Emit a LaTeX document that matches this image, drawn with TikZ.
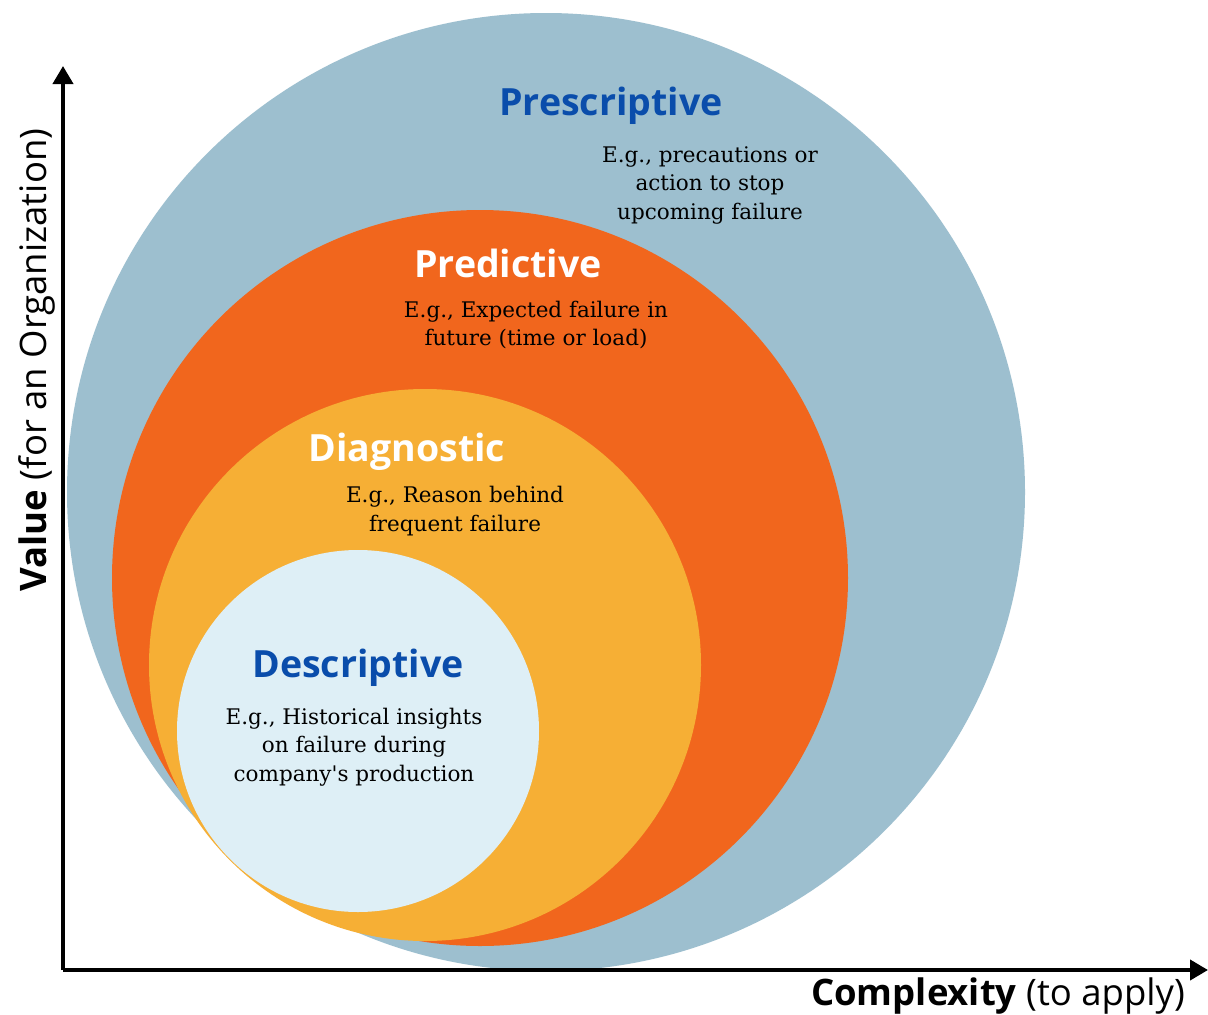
\documentclass[tikz,border=0pt]{standalone}
\usepackage{fontspec}
\setmainfont{DejaVu Serif}
\newfontfamily\osans{Open Sans}
\usetikzlibrary{arrows.meta}
\definecolor{cBlue}{HTML}{9DBFCF}
\definecolor{cOrange}{HTML}{F1661D}
\definecolor{cYellow}{HTML}{F6AF35}
\definecolor{cLight}{HTML}{DEEFF6}
\definecolor{cHead}{HTML}{0A4DAB}
\tikzset{
  head/.style={font=\osans\bfseries\fontsize{37.5}{40}\selectfont, inner sep=0pt, anchor=base},
  desc/.style={font=\fontsize{21.5}{28.5}\selectfont, align=center, inner sep=0pt, text=black},
  axis/.style={line width=4pt, -{Triangle[length=18pt,width=20pt]}},
  axlabel/.style={font=\osans\fontsize{36.5}{40}\selectfont, inner sep=0pt, anchor=base}
}
\begin{document}
\begin{tikzpicture}[x=1pt,y=-1pt]
\useasboundingbox (0,0) rectangle (1208,1015);
\fill[white] (0,0) rectangle (1208,1015);
% circles
\fill[cBlue] (546,492) circle (479pt);
\fill[cOrange] (480,578) circle (368pt);
\fill[cYellow] (425,665) circle (276pt);
\fill[cLight] (358,731) circle (181pt);
% headings
\node[head, text=cHead] (pres) at (611,115) {Prescriptive};
\node[head, text=white] (pred) at (508,277) {Predictive};
\node[head, text=white] (diag) at (407,461) {Diagnostic};
\node[head, text=cHead] (descr) at (358,677) {Descriptive};
% descriptions
\node[desc] (presT) at (710,185) {E.g., precautions or\\action to stop\\upcoming failure};
\node[desc] (predT) at (536,325) {E.g., Expected failure in\\future (time or load)};
\node[desc] (diagT) at (455,511) {E.g., Reason behind\\frequent failure};
\node[desc] (descrT) at (354,747) {E.g., Historical insights\\on failure during\\company\textquotesingle s production};
% axes
\coordinate (origin) at (63,970);
\coordinate (ytip) at (63,66);
\coordinate (xtip) at (1208,970);
\draw[axis] (origin) -- (ytip);
\draw[axis] (origin) -- (xtip);
\node[axlabel, rotate=90] (ylab) at (46,360) {{\bfseries Value} (for an Organization)};
\node[axlabel] (xlab) at (998,1005) {{\bfseries Complexity} (to apply)};
\end{tikzpicture}
\end{document}
